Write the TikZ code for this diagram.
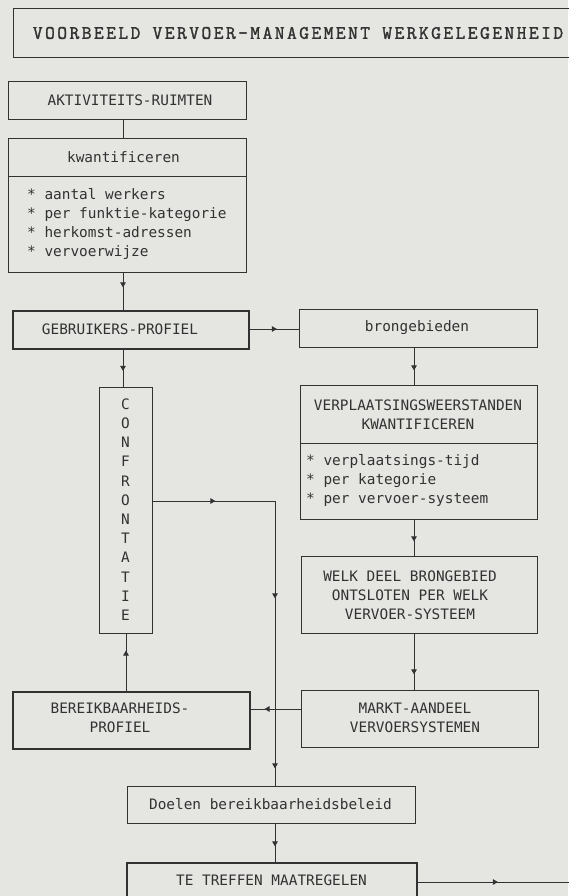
\documentclass[tikz,border=0pt]{standalone}
\usepackage{fontspec}
\newfontfamily\gothic{DejaVu Sans Mono}
\newfontfamily\courier{Latin Modern Mono}[LetterSpace=12.8,FakeBold=1.6]
\usetikzlibrary{arrows.meta,decorations.markings}
\definecolor{paper}{RGB}{229,229,226}
\definecolor{ink}{RGB}{50,50,50}

\begin{document}
\begin{tikzpicture}[x=1pt,y=-1pt,
  box/.style={draw=ink, line width=0.9pt, inner sep=0pt, anchor=north west},
  heavy/.style={box, line width=2.4pt},
  lbl/.style={text=ink, font=\gothic\fontsize{14.4}{19}\selectfont, inner sep=0pt, align=center},
  link/.style={draw=ink, line width=0.9pt},
  tipmark/.style={postaction={decorate,decoration={markings,
      mark=at position #1 with {\arrow[ink]{Triangle[width=5.5pt,length=5pt]}}}}}
]
\useasboundingbox (0,0) rectangle (568,896);
\fill[paper] (0,0) rectangle (568,896);

% column and row guides for the connectors
\coordinate (colA) at (123,0);
\coordinate (colB) at (126,0);
\coordinate (colC) at (275,0);
\coordinate (colD) at (414,0);
\coordinate (rowG) at (0,329);
\coordinate (rowO) at (0,501);
\coordinate (rowM) at (0,709);
\coordinate (rowT) at (0,882);
\coordinate (divK) at (0,176);
\coordinate (divV) at (0,443);
\coordinate (exit) at (600,882);

% boxes
\node[box, minimum width=567pt, minimum height=49pt] (title) at (13,8) {};
\node[box, minimum width=238pt, minimum height=38pt] (aktiv) at (8,81) {};
\node[box, minimum width=238pt, minimum height=134pt] (kwant) at (8,138) {};
\node[heavy, minimum width=236pt, minimum height=38pt] (gebr) at (12,310) {};
\node[box, minimum width=238pt, minimum height=38pt] (bron) at (299,309) {};
\node[box, minimum width=237pt, minimum height=134pt] (verpl) at (300,385) {};
\node[box, minimum width=236pt, minimum height=77pt] (welk) at (301,556) {};
\node[box, minimum width=237pt, minimum height=57pt] (markt) at (301,690) {};
\node[box, minimum width=53pt, minimum height=246pt] (conf) at (99,387) {};
\node[heavy, minimum width=237pt, minimum height=57pt] (bereik) at (12,691) {};
\node[box, minimum width=288pt, minimum height=37pt] (doelen) at (127,786) {};
\node[heavy, minimum width=290pt, minimum height=50pt] (treffen) at (126,862) {};

% dividers inside the two list boxes
\draw[link] (kwant.west |- divK) -- (kwant.east |- divK);
\draw[link] (verpl.west |- divV) -- (verpl.east |- divV);

% texts
\node[lbl, font=\courier\fontsize{19}{24}\selectfont] (tTitle) at (298,33) {VOORBEELD VERVOER-MANAGEMENT WERKGELEGENHEID};
\node[lbl] (tAktiv) at (130,100) {AKTIVITEITS-RUIMTEN};
\node[lbl] (tKwant) at (123.5,157) {kwantificeren};
\node[lbl, align=left, anchor=west] (tKwantList) at (27,223.5) {* aantal werkers\\* per funktie-kategorie\\* herkomst-adressen\\* vervoerwijze};
\node[lbl] (tGebr) at (120,329) {GEBRUIKERS-PROFIEL};
\node[lbl] (tBron) at (417,328) {brongebieden};
\node[lbl] (tVerpl) at (418,414.5) {VERPLAATSINGSWEERSTANDEN\\KWANTIFICEREN};
\node[lbl, align=left, anchor=west] (tVerplList) at (306,480.5) {* verplaatsings-tijd\\* per kategorie\\* per vervoer-systeem};
\node[lbl] (tWelk) at (410,595) {WELK DEEL BRONGEBIED\\ONTSLOTEN PER WELK\\VERVOER-SYSTEEM};
\node[lbl] (tMarkt) at (415,718) {MARKT-AANDEEL\\VERVOERSYSTEMEN};
\node[lbl, font=\gothic\fontsize{14.4}{19.2}\selectfont] (tConf) at (125.5,509.5) {C\\O\\N\\F\\R\\O\\N\\T\\A\\T\\I\\E};
\node[lbl] (tBereik) at (120,718) {BEREIKBAARHEIDS-\\PROFIEL};
\node[lbl] (tDoelen) at (270.5,804) {Doelen bereikbaarheidsbeleid};
\node[lbl] (tTreffen) at (271.5,880) {TE TREFFEN MAATREGELEN};

% connectors
\draw[link] (aktiv.south -| colA) -- (kwant.north -| colA);
\draw[link, tipmark=14.5pt] (kwant.south -| colA) -- (gebr.north -| colA);
\draw[link, tipmark=26.5pt] (gebr.east |- rowG) -- (bron.west |- rowG);
\draw[link, tipmark=20.5pt] (gebr.south -| colA) -- (conf.north -| colA);
\draw[link, tipmark=22.5pt] (bron.south -| colD) -- (verpl.north -| colD);
\draw[link, tipmark=21.5pt] (verpl.south -| colD) -- (welk.north -| colD);
\draw[link, tipmark=40.5pt] (welk.south -| colD) -- (markt.north -| colD);
\draw[link, tipmark=62.5pt, tipmark=219.5pt, tipmark=389.5pt] (conf.east |- rowO) -| (doelen.north -| colC);
\draw[link, tipmark=36.5pt] (markt.west |- rowM) -- (bereik.east |- rowM);
\draw[link, tipmark=40.5pt] (bereik.north -| colB) -- (conf.south -| colB);
\draw[link, tipmark=22.5pt] (doelen.south -| colC) -- (treffen.north -| colC);
\draw[link, tipmark=79.5pt] (treffen.east |- rowT) -- (exit);
\end{tikzpicture}
\end{document}
